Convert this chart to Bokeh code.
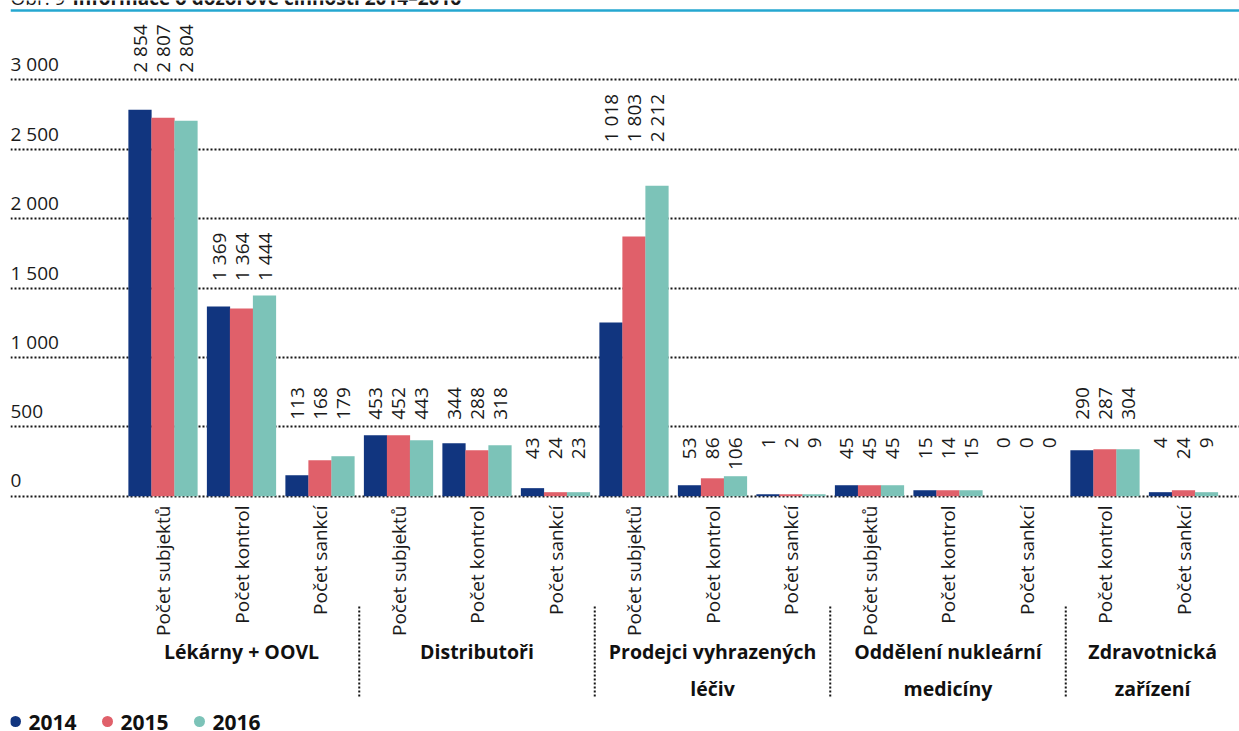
import math
from bokeh.plotting import figure
from bokeh.models import Range1d, Grid, FixedTicker, Span
from bokeh.core.properties import value
from bokeh.embed import file_html
from bokeh.resources import INLINE

# ---------------- data ----------------
title_prefix = "Obr. 9"
title_main = "Informace o dozorové činnosti 2014–2016"
groups = ["Lékárny + OOVL", "Distributoři", "Prodejci vyhrazených\nléčiv",
          "Oddělení nukleární\nmedicíny", "Zdravotnická\nzařízení"]
group_measures = [
    ["Počet subjektů", "Počet kontrol", "Počet sankcí"],
    ["Počet subjektů", "Počet kontrol", "Počet sankcí"],
    ["Počet subjektů", "Počet kontrol", "Počet sankcí"],
    ["Počet subjektů", "Počet kontrol", "Počet sankcí"],
    ["Počet kontrol", "Počet sankcí"],
]
years = ["2014", "2015", "2016"]
colors = ["#11357f", "#e0606a", "#7cc3b8"]

# bar heights as drawn in the picture
bars_2014 = [2784, 1367, 151, 439, 381, 58, 1252, 79, 14, 79, 43, 0, 331, 29]
bars_2015 = [2727, 1353, 259, 439, 331, 29, 1871, 129, 14, 79, 43, 0, 338, 43]
bars_2016 = [2705, 1446, 288, 403, 367, 29, 2237, 144, 14, 79, 43, 0, 338, 29]

# values printed above the bars
labels_2014 = [2854, 1369, 113, 453, 344, 43, 1018, 53, 1, 45, 15, 0, 290, 4]
labels_2015 = [2807, 1364, 168, 452, 288, 24, 1803, 86, 2, 45, 14, 0, 287, 24]
labels_2016 = [2804, 1444, 179, 443, 318, 23, 2212, 106, 9, 45, 15, 0, 304, 9]

y_ticks = [0, 500, 1000, 1500, 2000, 2500, 3000]
y_tick_labels = ["0", "500", "1 000", "1 500", "2 000", "2 500", "3 000"]

# ---------------- layout ----------------
W, H = 1239, 731
ZERO_PX = 495.7      # y of value 0
PPU = 0.1388         # pixels per unit
X0_PX = 162.5        # x of first slot centre
SLOT_PX = 78.5       # slot pitch in px
LEFT_PX = 10
BASE_FIX = 7         # renderer draws alphabetic baselines ~7px low


def ydata(py):
    return (ZERO_PX - py) / PPU


def ybase(py):
    return ydata(py - BASE_FIX)


def xdata(px):
    return (px - X0_PX) / SLOT_PX


FONT = value("Open Sans")
FS = 19
DOT = "2 2"
DOT_COLOR = "#161616"

p = figure(width=W, height=H, output_backend="svg", toolbar_location=None,
           x_range=Range1d(xdata(LEFT_PX), xdata(W)),
           y_range=Range1d(ydata(H), ydata(0)),
           x_axis_location=None, y_axis_location=None,
           min_border_left=LEFT_PX, min_border_right=0, min_border_top=0, min_border_bottom=0)
p.outline_line_color = None
p.background_fill_color = "white"
p.border_fill_color = "white"
p.center = [r for r in p.center if not isinstance(r, Grid)]

grid = Grid(dimension=1, ticker=FixedTicker(ticks=y_ticks),
            grid_line_color=DOT_COLOR, grid_line_width=2, grid_line_dash=DOT)
p.add_layout(grid)

# title (cut off at the top edge, as in the source) and its rule
p.text(x=[xdata(LEFT_PX)], y=[ybase(4.7)], text=[title_prefix],
       text_font=FONT, text_font_size=f"{FS}px", text_color="#1a1a1a",
       text_align="left", text_baseline="alphabetic")
p.text(x=[xdata(72)], y=[ybase(4.7)], text=[title_main],
       text_font=FONT, text_font_style="bold", text_font_size=f"{FS}px", text_color="#1a1a1a",
       text_align="left", text_baseline="alphabetic")
p.add_layout(Span(location=ydata(10), dimension="width", line_color="#25a7d0", line_width=2.5))

# y tick labels above grid lines
p.text(x=[xdata(LEFT_PX)] * len(y_ticks), y=[t + (8.5 + BASE_FIX) / PPU for t in y_ticks],
       text=y_tick_labels,
       text_font=FONT, text_font_size=f"{FS}px", text_color="#1a1a1a",
       text_align="left", text_baseline="alphabetic")

# slots
measures = [m for g in group_measures for m in g]
n = len(measures)
slots = list(range(n))
bw = 23 / SLOT_PX
series_bars = [bars_2014, bars_2015, bars_2016]
series_labels = [labels_2014, labels_2015, labels_2016]
offsets = [-bw, 0.0, bw]

for yi in range(3):
    p.vbar(x=[s + offsets[yi] for s in slots], top=series_bars[yi], bottom=0,
           width=bw * 1.01, fill_color=colors[yi], line_color=None)


def fmt(v):
    return f"{v:,}".replace(",", " ")


def text_len(s, size):
    return sum(0.572 * size if ch.isdigit() else 0.26 * size for ch in s)


lab_x, lab_y, lab_t = [], [], []
for s in slots:
    m = max(series_bars[k][s] for k in range(3))
    texts = [fmt(series_labels[k][s]) for k in range(3)]
    if m < 150:
        top = ydata(437)
    else:
        level = math.ceil(m / 500) * 500
        maxlen = max(text_len(t, FS) for t in texts)
        top = level + (7 + maxlen) / PPU
    for k in range(3):
        lab_x.append(s + offsets[k])
        lab_y.append(top)
        lab_t.append(texts[k])

p.text(x=lab_x, y=lab_y, text=lab_t, angle=math.pi / 2,
       text_font=FONT, text_font_size=f"{FS}px", text_color="#1a1a1a",
       text_align="right", text_baseline="middle")

# category labels
p.text(x=slots, y=[ydata(505)] * n, text=measures, angle=math.pi / 2,
       text_font=FONT, text_font_size=f"{FS}px", text_color="#1a1a1a",
       text_align="right", text_baseline="middle")

# group separators and group labels
starts, ends = [], []
c = 0
for g in group_measures:
    starts.append(c)
    ends.append(c + len(g) - 1)
    c += len(g)

sep_x = [e + 0.5 for e in ends[:-1]]
p.segment(x0=sep_x, x1=sep_x, y0=[ydata(606)] * len(sep_x), y1=[ydata(697)] * len(sep_x),
          line_color=DOT_COLOR, line_width=2, line_dash=DOT)

gx, gy, gt = [], [], []
for gi, name in enumerate(groups):
    left = starts[gi] - 0.5
    right = ends[gi] + 0.5 if gi < len(groups) - 1 else p.x_range.end
    cx = (left + right) / 2
    for li, line in enumerate(name.split("\n")):
        gx.append(cx)
        gy.append(ybase(658 + 37 * li))
        gt.append(line)
p.text(x=gx, y=gy, text=gt, text_font=FONT, text_font_style="bold",
       text_font_size="19.5px", text_color="#111111",
       text_align="center", text_baseline="alphabetic")

# legend
p.scatter(x=[xdata(15 + 92 * i) for i in range(3)], y=[ydata(721)] * 3, size=11,
          marker="circle", fill_color=colors, line_color=None)
p.text(x=[xdata(28 + 92 * i) for i in range(3)], y=[ybase(729)] * 3, text=years,
       text_font=FONT, text_font_style="bold", text_font_size="21px", text_color="#111111",
       text_align="left", text_baseline="alphabetic")

open("out.html", "w").write(file_html(p, INLINE))
